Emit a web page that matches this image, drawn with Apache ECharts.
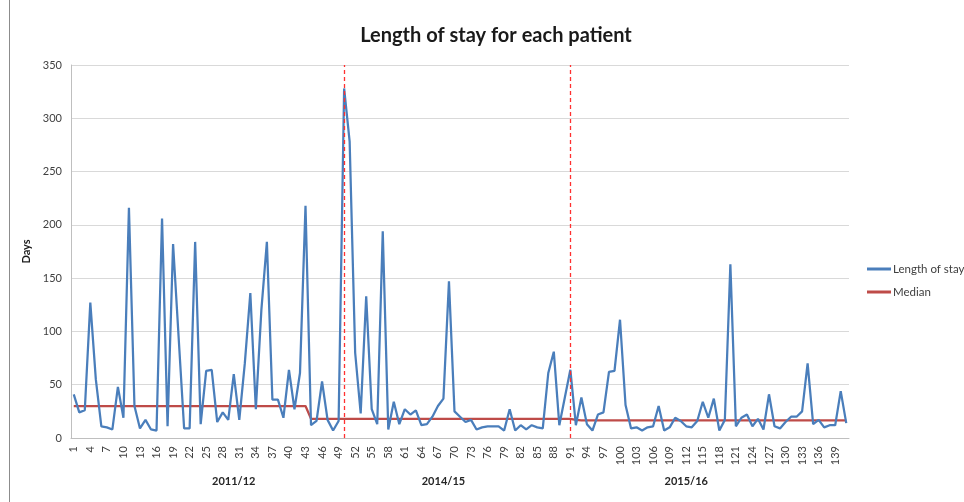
<!DOCTYPE html>
<html>
<head>
<meta charset="utf-8">
<title>Length of stay for each patient</title>
<script src="https://cdn.jsdelivr.net/npm/echarts@6/dist/echarts.min.js"></script>
<style>
  html, body { margin: 0; padding: 0; background: #fff; }
  #chart { width: 964px; height: 502px; }
</style>
</head>
<body>
<div id="chart"></div>
<script>
// 病人编号 1..141（横轴类目）
const patientIds = Array.from({ length: 141 }, (_, i) => String(i + 1))

// 每个病人的住院天数
const lengthOfStay = [
  41, 24, 26, 127, 55, 11, 10, 8, 48, 19,
  216, 30, 9, 17, 8, 7, 206, 11, 182, 95,
  9, 9, 184, 13, 63, 64, 15, 24, 17, 60,
  17, 70, 136, 27, 120, 184, 36, 36, 19, 64,
  27, 61, 218, 12, 16, 53, 17, 7, 16, 328,
  278, 80, 23, 133, 27, 13, 194, 8, 34, 13,
  27, 22, 26, 12, 13, 20, 30, 37, 147, 25,
  20, 15, 17, 8, 10, 11, 11, 11, 7, 27,
  7, 12, 8, 12, 10, 9, 61, 81, 12, 38,
  64, 12, 38, 13, 7, 22, 24, 62, 63, 111,
  31, 9, 10, 7, 10, 11, 30, 7, 10, 19,
  16, 11, 10, 16, 34, 19, 37, 7, 17, 163,
  11, 19, 22, 11, 18, 8, 41, 11, 9, 15,
  20, 20, 25, 70, 13, 17, 10, 12, 12, 44,
  14
]

// 中位数
const medianStay = [
  30, 30, 30, 30, 30, 30, 30, 30, 30, 30,
  30, 30, 30, 30, 30, 30, 30, 30, 30, 30,
  30, 30, 30, 30, 30, 30, 30, 30, 30, 30,
  30, 30, 30, 30, 30, 30, 30, 30, 30, 30,
  30, 30, 30, 18, 18, 18, 18, 18, 18, 18,
  18, 18, 18, 18, 18, 18, 18, 18, 18, 18,
  18, 18, 18, 18, 18, 18, 18, 18, 18, 18,
  18, 18, 18, 18, 18, 18, 18, 18, 18, 18,
  18, 18, 18, 18, 18, 18, 18, 18, 18, 18,
  18, 17, 16.5, 16.5, 16.5, 16.5, 16.5, 16.5, 16.5, 16.5,
  16.5, 16.5, 16.5, 16.5, 16.5, 16.5, 16.5, 16.5, 16.5, 16.5,
  16.5, 16.5, 16.5, 16.5, 16.5, 16.5, 16.5, 16.5, 16.5, 16.5,
  16.5, 16.5, 16.5, 16.5, 16.5, 16.5, 16.5, 16.5, 16.5, 16.5,
  16.5, 16.5, 16.5, 16.5, 16.5, 16.5, 16.5, 16.5, 16.5, 16.5,
  16.5
]

// 年度分组标签，以及它们所在的病人编号
const yearGroups = ['2011/12', '2014/15', '2015/16']
const yearGroupAt = ['30', '68', '112']

// 年度分隔线（红色虚线）所在的病人编号
const yearBreaks = ['50', '91']

// 纵轴刻度
const dayTicks = [0, 50, 100, 150, 200, 250, 300, 350]

const groupAxisData = patientIds.map((id) => {
  const k = yearGroupAt.indexOf(id)
  return k >= 0 ? yearGroups[k] : ''
})

const font = 'Lato, "Noto Sans", sans-serif'
const chart = echarts.init(document.getElementById('chart'), null, { renderer: 'canvas' })

const option = {
  animation: false,
  backgroundColor: '#fff',
  textStyle: { fontFamily: font },
  title: {
    text: 'Length of stay for each patient',
    left: 491,
    textAlign: 'center',
    top: 21,
    textStyle: { fontFamily: font, fontSize: 20, fontWeight: 'bold', color: '#1a1a1a' }
  },
  legend: {
    orient: 'vertical',
    left: 862,
    top: 258,
    itemGap: 11,
    itemWidth: 24,
    itemHeight: 3,
    icon: 'rect',
    textStyle: { fontFamily: font, fontSize: 11.5, color: '#404040', padding: [0, 0, 0, -3] },
    data: ['Length of stay', 'Median']
  },
  grid: {
    left: 71,
    right: 115,
    top: 65,
    bottom: 64
  },
  xAxis: [
    {
      type: 'category',
      data: patientIds,
      boundaryGap: true,
      axisLine: { lineStyle: { color: '#bfbfbf' } },
      axisTick: { show: false },
      axisLabel: {
        interval: 2,
        rotate: 90,
        margin: 8,
        fontSize: 11,
        color: '#404040',
        fontFamily: font
      }
    },
    {
      type: 'category',
      data: groupAxisData,
      position: 'bottom',
      boundaryGap: true,
      axisLine: { show: false },
      axisTick: { show: false },
      splitLine: { show: false },
      axisLabel: {
        interval: 0,
        margin: 38,
        fontSize: 11,
        fontWeight: 'bold',
        color: '#262626',
        fontFamily: font
      }
    }
  ],
  yAxis: {
    type: 'value',
    min: dayTicks[0],
    max: dayTicks[dayTicks.length - 1],
    interval: dayTicks[1] - dayTicks[0],
    name: 'Days',
    nameLocation: 'middle',
    nameRotate: 90,
    nameGap: 32,
    nameTextStyle: { fontFamily: font, fontSize: 11, fontWeight: 'bold', color: '#1a1a1a' },
    axisLine: { show: true, lineStyle: { color: '#bfbfbf' } },
    axisTick: { show: false },
    axisLabel: { margin: 9, fontSize: 11, color: '#404040', fontFamily: font },
    splitLine: { lineStyle: { color: '#d9d9d9', width: 1 } }
  },
  series: [
    {
      name: 'Length of stay',
      type: 'line',
      data: lengthOfStay,
      symbol: 'none',
      lineStyle: { color: '#4a7ebb', width: 2.25 },
      itemStyle: { color: '#4a7ebb' },
      z: 3
    },
    {
      name: 'Median',
      type: 'line',
      data: medianStay,
      symbol: 'none',
      lineStyle: { color: '#be4b48', width: 2.25 },
      itemStyle: { color: '#be4b48' },
      z: 2,
      markLine: {
        silent: true,
        symbol: 'none',
        label: { show: false },
        lineStyle: { color: '#ff3030', type: [4, 3], width: 1.3 },
        data: yearBreaks.map((id) => ({ xAxis: id }))
      }
    }
  ],
  graphic: [
    {
      type: 'line',
      shape: { x1: 9.5, y1: 0, x2: 9.5, y2: 502 },
      style: { stroke: '#8c8c8c', lineWidth: 1 },
      silent: true
    }
  ]
}

chart.setOption(option)
</script>
</body>
</html>
